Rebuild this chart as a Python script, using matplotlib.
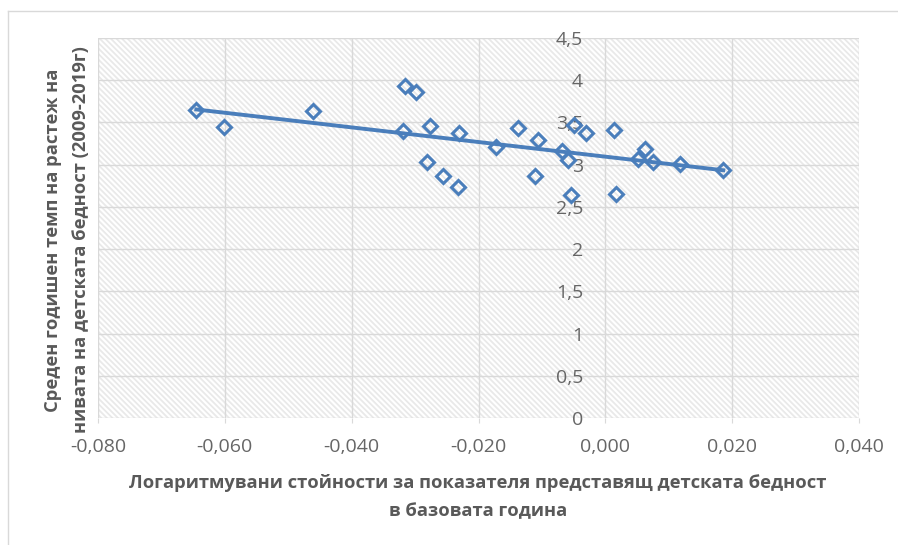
#!/usr/bin/env python3

import matplotlib.pyplot as plt
import numpy as np
from matplotlib.lines import Line2D
from matplotlib.patches import Rectangle

# log of child poverty indicator in base year vs. average annual growth rate
poverty_log = [
    -0.0645, -0.0601, -0.0461, -0.0316, -0.0298, -0.0319, -0.0276, -0.0281,
    -0.0256, -0.0232, -0.0231, -0.0172, -0.0137, -0.0106, -0.0111, -0.0068,
    -0.0059, -0.0049, -0.0030, -0.0054, 0.0014, 0.0017, 0.0052, 0.0063,
    0.0075, 0.0118, 0.0186,
]
growth_rate = [
    3.65, 3.45, 3.63, 3.93, 3.86, 3.40, 3.46, 3.03,
    2.86, 2.73, 3.38, 3.21, 3.44, 3.29, 2.87, 3.16,
    3.05, 3.47, 3.38, 2.64, 3.41, 2.65, 3.07, 3.18,
    3.03, 3.01, 2.94,
]

x_ticks = [-0.08, -0.06, -0.04, -0.02, 0.0, 0.02, 0.04]
x_tick_labels = ["-0,080", "-0,060", "-0,040", "-0,020", "0,000", "0,020", "0,040"]
y_ticks = [0, 0.5, 1, 1.5, 2, 2.5, 3, 3.5, 4, 4.5]
y_tick_labels = ["0", "0,5", "1", "1,5", "2", "2,5", "3", "3,5", "4", "4,5"]

x_title = ("Логаритмувани стойности за показателя представящ детската бедност\n"
           "в базовата година")
y_title = ("Среден годишен темп на растеж на\n"
           "нивата на детската бедност (2009-2019г)")

blue = "#4a7ebb"
grid = "#d9d9d9"

plt.rcParams["font.family"] = ["Open Sans", "DejaVu Sans"]
plt.rcParams["hatch.color"] = "#e9e9e9"
plt.rcParams["hatch.linewidth"] = 1.3

W, H = 898, 545
fig = plt.figure(figsize=(W / 100, H / 100), dpi=100)
ax = fig.add_axes([98 / W, (H - 418) / H, 761 / W, 380 / H])

# hatched plot area
ax.add_patch(Rectangle((0, 0), 1, 1, transform=ax.transAxes, facecolor="white",
                       edgecolor="#e9e9e9", linewidth=0, hatch="\\" * 6, zorder=0.1))

ax.plot(poverty_log, growth_rate, linestyle="none", marker="D", markersize=7.5,
        markerfacecolor="none", markeredgecolor=blue, markeredgewidth=2.2, zorder=3)

# linear trendline
k, b = np.polyfit(poverty_log, growth_rate, 1)
xs = np.array([min(poverty_log), max(poverty_log)])
ax.plot(xs, k * xs + b, color=blue, linewidth=2.8, zorder=2)

ax.set_xlim(-0.08, 0.04)
ax.set_ylim(0, 4.5)
ax.set_xticks(x_ticks)
ax.set_xticklabels(x_tick_labels)
ax.set_yticks(y_ticks)
ax.set_yticklabels(y_tick_labels)

ax.grid(True, color=grid, linewidth=1.0)
ax.set_axisbelow(True)
for s in ["top", "right", "bottom"]:
    ax.spines[s].set_visible(False)
ax.spines["left"].set_position(("data", 0))
ax.spines["left"].set_visible(False)

ax.tick_params(axis="x", length=3.6, width=0.8, color=grid, pad=11,
               labelsize=14, labelcolor="#666666")
ax.tick_params(axis="y", length=0, pad=16, labelsize=14, labelcolor="#666666")

fig.text(478 / W, 1 - 497 / H, x_title, ha="center", va="center",
         fontsize=13.2, fontweight="bold", color="#595959", linespacing=1.7)
fig.text(67 / W, 1 - 240 / H, y_title, ha="center", va="center", rotation=90,
         fontsize=13.2, fontweight="bold", color="#595959", linespacing=1.7)

# chart outer border
fig.add_artist(Line2D([8 / W, 1], [1 - 11 / H, 1 - 11 / H], color=grid, linewidth=1))
fig.add_artist(Line2D([8 / W, 8 / W], [0, 1 - 11 / H], color=grid, linewidth=1))

fig.savefig("out.png", dpi=100)
